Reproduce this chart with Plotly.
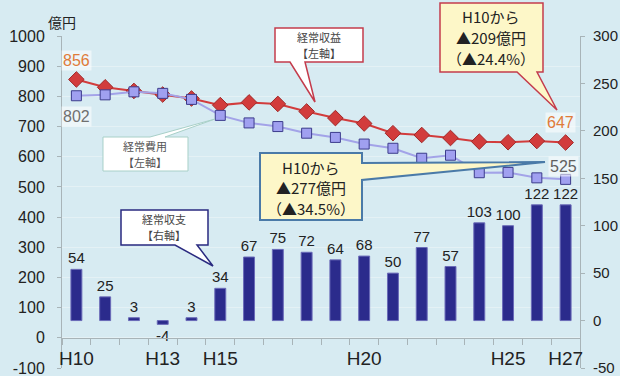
import plotly.graph_objects as go

# ---- data ----
categories = ["H10", "H11", "H12", "H13", "H14", "H15", "H16", "H17", "H18",
              "H19", "H20", "H21", "H22", "H23", "H24", "H25", "H26", "H27"]
revenue = [856, 830, 818, 806, 793, 771, 780, 775, 750, 728, 710, 678, 672, 662, 650, 648, 652, 647]
expense = [802, 805, 815, 810, 790, 737, 712, 700, 678, 664, 642, 628, 595, 605, 547, 548, 530, 525]
balance = [54, 25, 3, -4, 3, 34, 67, 75, 72, 64, 68, 50, 77, 57, 103, 100, 122, 122]
tick_labels = ["H10", "H13", "H15", "H20", "H25", "H27"]
left_ticks = [-100, 0, 100, 200, 300, 400, 500, 600, 700, 800, 900, 1000]
right_ticks = [-50, 0, 50, 100, 150, 200, 250, 300]

W, H = 620, 376
ML, MR, MT, MB = 62, 40, 36, 8
PW, PH = W - ML - MR, H - MT - MB
BG = "#d7ebf2"
FONT = "Liberation Sans, Arial, Noto Sans CJK JP"
JFONT = "Noto Sans CJK JP, Liberation Sans"

def px(x):
    return (x - ML) / PW

def py(y):
    return (H - MB - y) / PH

xs = list(range(len(categories)))
left_range = [left_ticks[0], left_ticks[-1]]
right_range = [right_ticks[0], right_ticks[-1]]

fig = go.Figure()

fig.add_trace(go.Scatter(
    x=xs, y=revenue, mode="lines+markers", name="経常収益",
    line=dict(color="#d23c3c", width=2),
    marker=dict(symbol="diamond", size=12, color="#d23c3c", line=dict(color="#a02828", width=1)),
    showlegend=False,
))
fig.add_trace(go.Scatter(
    x=xs, y=expense, mode="lines+markers", name="経常費用",
    line=dict(color="#a3a3e8", width=2),
    marker=dict(symbol="square", size=10, color="#a0a0f0", line=dict(color="#3c3c8c", width=1)),
    showlegend=False,
))
fig.add_trace(go.Bar(
    x=xs, y=balance, yaxis="y2", name="経常収支", width=0.38,
    marker=dict(color="#2b2b8c", line=dict(color="#6a6ab8", width=1)),
    text=[str(v) for v in balance], textposition="outside", constraintext="none",
    textfont=dict(size=15, color="#222222", family=FONT),
    cliponaxis=False, showlegend=False,
))

tick_idx = [categories.index(t) for t in tick_labels]
x_pos = (0 - left_range[0]) / (left_range[1] - left_range[0])

fig.update_layout(
    width=W, height=H,
    margin=dict(l=ML, r=MR, t=MT, b=MB, autoexpand=False),
    paper_bgcolor=BG, plot_bgcolor=BG,
    font=dict(family=FONT, color="#222222"),
    bargap=0.6,
    xaxis=dict(
        range=[-0.5, len(categories) - 0.5], automargin=False,
        anchor="free", position=x_pos, ticklabeloverflow="allow",
        tickmode="array", tickvals=tick_idx, ticktext=tick_labels,
        ticks="", ticklen=0, ticklabelstandoff=3,
        tickfont=dict(size=19, family=FONT, color="#222"),
        showline=True, linecolor="#a8b4b8", linewidth=1,
        showgrid=False, zeroline=False,
        minor=dict(tickmode="array", tickvals=[i + 0.5 for i in range(-1, len(categories))],
                   ticks="outside", ticklen=6, tickcolor="#a8b4b8"),
    ),
    yaxis=dict(
        range=left_range, tickmode="array", tickvals=left_ticks, automargin=False,
        ticktext=[str(v) for v in left_ticks], ticklabeloverflow="allow",
        ticks="outside", ticklen=4, tickcolor="#a8b4b8",
        showline=True, linecolor="#a8b4b8", linewidth=1,
        showgrid=True, gridcolor="#e4f1f5", gridwidth=1, zeroline=False,
        tickfont=dict(size=16, family=FONT, color="#222"),
        ticklabelstandoff=9,
    ),
    yaxis2=dict(
        range=right_range, tickmode="array", tickvals=right_ticks, automargin=False,
        ticktext=[str(v) for v in right_ticks], overlaying="y", side="right",
        ticklabeloverflow="allow",
        ticks="outside", ticklen=4, tickcolor="#a8b4b8",
        showline=True, linecolor="#a8b4b8", linewidth=1,
        showgrid=False, zeroline=False,
        tickfont=dict(size=15, family=FONT, color="#222"),
        ticklabelstandoff=5,
    ),
)

shapes = []
annos = []

def callout(points, fill, line, lw):
    d = "M " + " L ".join(f"{px(a):.5f},{py(b):.5f}" for a, b in points) + " Z"
    shapes.append(dict(type="path", xref="paper", yref="paper", path=d,
                       fillcolor=fill, line=dict(color=line, width=lw), layer="above"))

def ptext(x, y, text, size, color, family=JFONT):
    annos.append(dict(xref="paper", yref="paper", x=px(x), y=py(y), text=text,
                      showarrow=False, xanchor="center", yanchor="middle",
                      font=dict(size=size, color=color, family=family)))

# 経常収益 callout
callout([(275, 28), (363, 28), (363, 62), (305, 62), (315, 102), (290, 62), (275, 62)],
        "#ffffff", "#c43c4c", 1.5)
ptext(319, 37, "経常収益", 11, "#444444")
ptext(319, 53, "【左軸】", 11, "#444444")
# ▲209 callout
callout([(440, 3), (543, 3), (543, 72), (537, 72), (557, 110), (517, 72), (440, 72)],
        "#fdf7c8", "#c43c4c", 1.5)
ptext(491, 17, "H10から", 15, "#222222")
ptext(491, 37, "▲209億円", 15, "#222222")
ptext(491, 58, "（▲24.4%）", 15, "#222222")
# ▲277 callout
callout([(260, 153), (362, 153), (362, 163), (545, 162), (362, 180), (362, 220), (260, 220)],
        "#fdf7c8", "#4a7aa8", 2)
ptext(311, 167, "H10から", 15, "#222222")
ptext(311, 187, "▲277億円", 15, "#222222")
ptext(311, 208, "（▲34.5%）", 15, "#222222")
# 経常費用 callout
callout([(103, 137), (150, 137), (215, 119), (165, 137), (188, 137), (188, 171), (103, 171)],
        "#ffffff", "#a8d0c8", 1)
ptext(145, 146, "経常費用", 11, "#555555")
ptext(145, 162, "【左軸】", 11, "#555555")
# 経常収支 callout
callout([(121, 210), (208, 210), (208, 245), (197, 245), (213, 266), (175, 245), (121, 245)],
        "#ffffff", "#2a2a80", 1.5)
ptext(164, 219, "経常収支", 11, "#444444")
ptext(164, 235, "【右軸】", 11, "#444444")

# unit label
ptext(62, 22, "億円", 14, "#222222")

# value labels (data coords)
def vlabel(x, y, text, color):
    annos.append(dict(xref="x", yref="y", x=x, y=y, text=text, showarrow=False,
                      xanchor="center", yanchor="middle", bgcolor="rgba(255,255,255,0.55)",
                      font=dict(size=16, color=color, family=FONT)))

vlabel(0, revenue[0] + 64, str(revenue[0]), "#e07b39")
vlabel(0, expense[0] - 70, str(expense[0]), "#707070")
vlabel(len(categories) - 1.17, revenue[-1] + 66, str(revenue[-1]), "#e07b39")
vlabel(len(categories) - 1.06, expense[-1] + 42, str(expense[-1]), "#606060")

fig.update_layout(shapes=shapes, annotations=annos)
fig.write_html("out.html")
